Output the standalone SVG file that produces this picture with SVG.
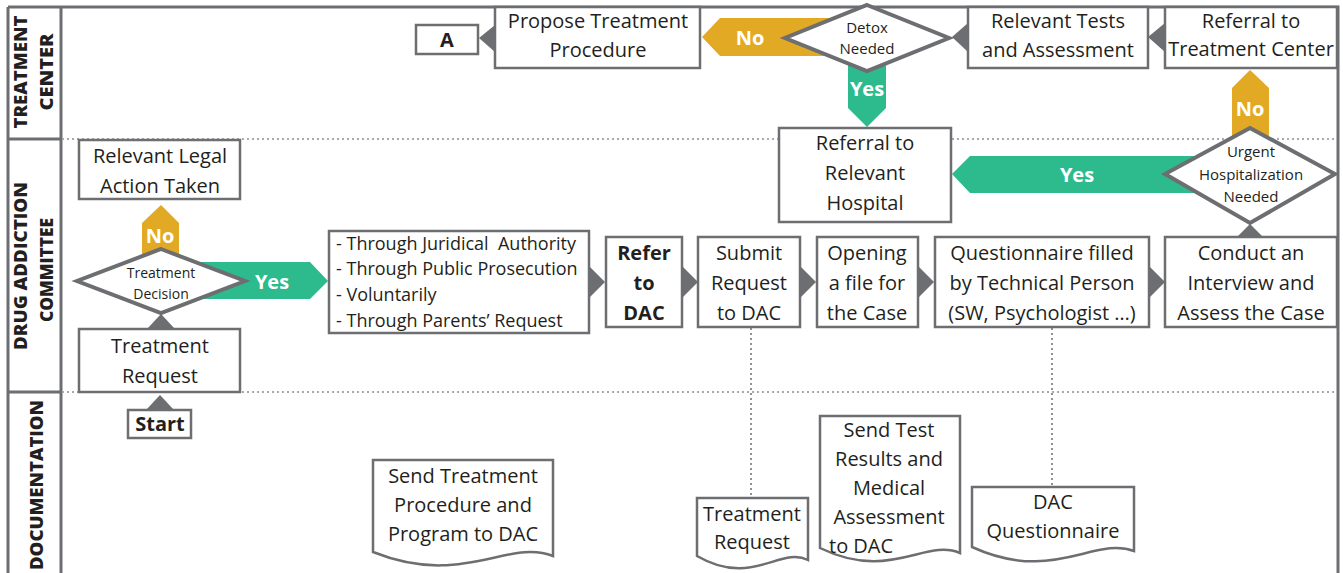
<svg xmlns="http://www.w3.org/2000/svg" width="1343" height="573" viewBox="0 0 1343 573">
<style>
.frame{fill:none;stroke:#6d6e71;stroke-width:3}
.lane{fill:none;stroke:#a7a9ac;stroke-width:2;stroke-dasharray:2 3}
.box{fill:#fff;stroke:#6d6e71;stroke-width:2.5}
.dia{fill:#fff;stroke:#6d6e71;stroke-width:4}
.doc{fill:#fff;stroke:#6d6e71;stroke-width:2.5}
.tri{fill:#6d6e71}
.yes{fill:#2dba8c}
.no{fill:#e2a925}
.dot{fill:none;stroke:#6d6e71;stroke-width:1.5;stroke-dasharray:2 3}
text{font-family:"Open Sans","Noto Sans","Liberation Sans",sans-serif;fill:#231f20;text-anchor:middle;dominant-baseline:central}
.t{font-size:20px}
.s{font-size:18px;text-anchor:start}
.d{font-size:15px}
.b{font-size:20px;font-weight:700}
.lbl{font-size:20px;font-weight:700;fill:#fff}
.lane-t{font-size:17px;font-weight:800;dominant-baseline:auto}
</style>
<rect width="1343" height="573" fill="#fff"/>
<g id="lanes">
<path class="frame" d="M8 7H1338V573M8 573V7M61 7V573M8 139H61M8 392H61"/>
<path class="lane" d="M62 139H1337M62 392H1337"/>
<text class="lane-t" transform="translate(27,72) rotate(-90)" textLength="113" lengthAdjust="spacingAndGlyphs">TREATMENT</text>
<text class="lane-t" transform="translate(53,72) rotate(-90)" textLength="77" lengthAdjust="spacingAndGlyphs">CENTER</text>
<text class="lane-t" transform="translate(27,266) rotate(-90)" textLength="168" lengthAdjust="spacingAndGlyphs">DRUG ADDICTION</text>
<text class="lane-t" transform="translate(53,270) rotate(-90)" textLength="104" lengthAdjust="spacingAndGlyphs">COMMITTEE</text>
<text class="lane-t" transform="translate(43,485) rotate(-90)" textLength="170" lengthAdjust="spacingAndGlyphs">DOCUMENTATION</text>
</g>
<g id="connectors">
<polygon class="no" points="702,37 720,18 840,18 840,56 720,56"/>
<text class="lbl" x="750" y="37">No</text>
<polygon class="yes" points="848,55 886,55 886,108 867,127 848,108"/>
<text class="lbl" x="867" y="88">Yes</text>
<polygon class="no" points="1232,88 1250,70 1269,88 1269,150 1232,150"/>
<text class="lbl" x="1250" y="108">No</text>
<polygon class="yes" points="952,174 970,156 1200,156 1200,193 970,193"/>
<text class="lbl" x="1077" y="174">Yes</text>
<polygon class="no" points="142,223 161,205 179,223 179,265 142,265"/>
<text class="lbl" x="160" y="235">No</text>
<polygon class="yes" points="200,262 310,262 328,281 310,299 200,299"/>
<text class="lbl" x="272" y="281">Yes</text>
<polygon class="tri" points="479,38 495,25 495,52"/>
<polygon class="tri" points="952,37 968,23 968,52"/>
<polygon class="tri" points="1148,37 1165,23 1165,52"/>
<polygon class="tri" points="161,314 147,329 175,329"/>
<polygon class="tri" points="160,395 146,410 174,410"/>
<polygon class="tri" points="589,266 605,282 589,298"/>
<polygon class="tri" points="682,266 698,282 682,298"/>
<polygon class="tri" points="800,266 816,282 800,298"/>
<polygon class="tri" points="918,266 934,282 918,298"/>
<polygon class="tri" points="1149,266 1165,282 1149,298"/>
<polygon class="tri" points="1250,224 1236,238 1264,238"/>
<path class="dot" d="M751 328V498M1052 328V487"/>
</g>
<g id="node-a"><rect class="box" x="416" y="25" width="62" height="29"/><text class="b" x="447" y="39">A</text></g>
<g id="node-propose"><rect class="box" x="495" y="7" width="205" height="61"/><text class="t" x="598" y="20">Propose Treatment</text><text class="t" x="598" y="49">Procedure</text></g>
<g id="node-detox"><polygon class="dia" points="867,5 949,38 867,71 785,38"/><text class="d" x="867" y="27">Detox</text><text class="d" x="867" y="48">Needed</text></g>
<g id="node-tests"><rect class="box" x="968" y="7" width="180" height="61"/><text class="t" x="1058" y="20">Relevant Tests</text><text class="t" x="1058" y="49">and Assessment</text></g>
<g id="node-referral-tc"><rect class="box" x="1165" y="7" width="172" height="61"/><text class="t" x="1251" y="20">Referral to</text><text class="t" x="1251" y="48">Treatment Center</text></g>
<g id="node-urgent"><polygon class="dia" points="1250,128 1335,174 1250,223 1165,174"/><text class="d" x="1251" y="151">Urgent</text><text class="d" x="1251" y="174">Hospitalization</text><text class="d" x="1251" y="196">Needed</text></g>
<g id="node-hospital"><rect class="box" x="779" y="128" width="172" height="94"/><text class="t" x="865" y="142">Referral to</text><text class="t" x="865" y="172">Relevant</text><text class="t" x="865" y="202">Hospital</text></g>
<g id="node-legal"><rect class="box" x="79" y="140" width="161" height="59"/><text class="t" x="160" y="155">Relevant Legal</text><text class="t" x="160" y="185">Action Taken</text></g>
<g id="node-decision"><polygon class="dia" points="161,249 245,281 161,313 77,281"/><text class="d" x="161" y="272" style="font-size:14px">Treatment</text><text class="d" x="161" y="293" style="font-size:14px">Decision</text></g>
<g id="node-request"><rect class="box" x="79" y="329" width="161" height="63"/><text class="t" x="160" y="345">Treatment</text><text class="t" x="160" y="375">Request</text></g>
<g id="node-start"><rect class="box" x="128" y="410" width="63" height="28"/><text class="b" x="160" y="423">Start</text></g>
<g id="node-channels"><rect class="box" x="329" y="231" width="260" height="102"/><text class="s" x="336" y="243">- Through Juridical&#160; Authority</text><text class="s" x="336" y="268">- Through Public Prosecution</text><text class="s" x="336" y="294">- Voluntarily</text><text class="s" x="336" y="320">- Through Parents’ Request</text></g>
<g id="node-refer"><rect class="box" x="606" y="237" width="76" height="90"/><text class="b" x="644" y="252">Refer</text><text class="b" x="644" y="282">to</text><text class="b" x="644" y="312">DAC</text></g>
<g id="node-submit"><rect class="box" x="698" y="237" width="102" height="90"/><text class="t" x="749" y="252">Submit</text><text class="t" x="749" y="282">Request</text><text class="t" x="749" y="312">to DAC</text></g>
<g id="node-opening"><rect class="box" x="817" y="237" width="101" height="90"/><text class="t" x="867" y="252">Opening</text><text class="t" x="867" y="282">a file for</text><text class="t" x="867" y="312">the Case</text></g>
<g id="node-questionnaire"><rect class="box" x="935" y="237" width="214" height="90"/><text class="t" x="1042" y="252">Questionnaire filled</text><text class="t" x="1042" y="282">by Technical Person</text><text class="t" x="1042" y="312">(SW, Psychologist …)</text></g>
<g id="node-conduct"><rect class="box" x="1165" y="237" width="172" height="90"/><text class="t" x="1251" y="252">Conduct an</text><text class="t" x="1251" y="282">Interview and</text><text class="t" x="1251" y="312">Assess the Case</text></g>
<g id="doc-send-procedure"><path class="doc" d="M373 460H553V556C508 538 463 588 373 552Z"/><text class="t" x="463" y="475">Send Treatment</text><text class="t" x="463" y="504">Procedure and</text><text class="t" x="463" y="533">Program to DAC</text></g>
<g id="doc-request"><path class="doc" d="M697 498H808V560C780 546 752 588 697 556Z"/><text class="t" x="752" y="513">Treatment</text><text class="t" x="752" y="541">Request</text></g>
<g id="doc-send-tests"><path class="doc" d="M820 416H960V553C925 538 890 582 820 548Z"/><text class="t" x="889" y="429">Send Test</text><text class="t" x="889" y="458">Results and</text><text class="t" x="889" y="487">Medical</text><text class="t" x="889" y="516">Assessment</text><text class="t" x="829" y="545" style="text-anchor:start">to DAC</text></g>
<g id="doc-dac-questionnaire"><path class="doc" d="M972 487H1134V551C1094 536 1053 584 972 547Z"/><text class="t" x="1053" y="501">DAC</text><text class="t" x="1053" y="530">Questionnaire</text></g>
</svg>
